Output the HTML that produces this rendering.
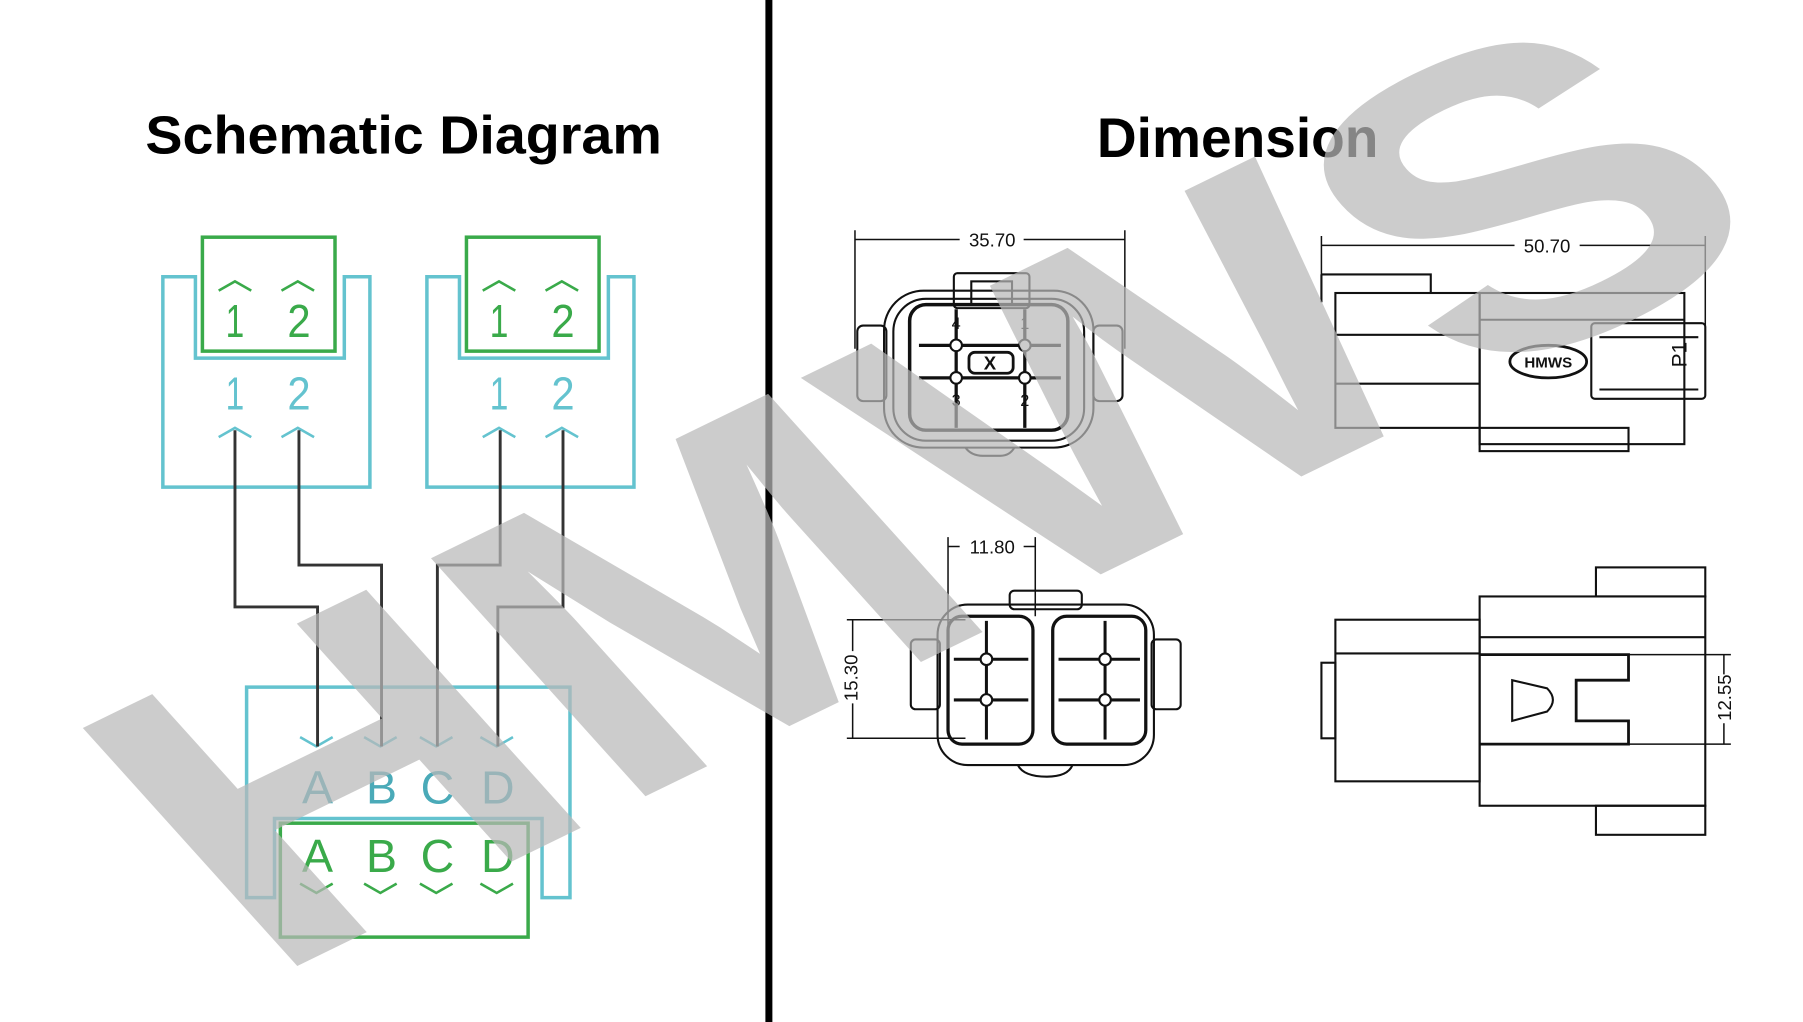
<!DOCTYPE html>
<html style="overflow:hidden"><head><meta charset="utf-8"><style>
html,body{margin:0;padding:0;background:#fff;overflow:hidden;width:1803px;height:1022px;}
svg{display:block;overflow:hidden;}
</style></head><body>
<svg width="1803" height="1022" viewBox="0 0 1550 879" preserveAspectRatio="none" xmlns="http://www.w3.org/2000/svg" font-family="Liberation Sans, sans-serif">
<rect width="1550" height="879" fill="#fff"/>
<rect x="658" y="0" width="6" height="879" fill="#000"/>
<text x="347" y="132" text-anchor="middle" font-size="46" font-weight="bold" textLength="444" lengthAdjust="spacingAndGlyphs" fill="#000">Schematic Diagram</text>
<text x="1064" y="135" text-anchor="middle" font-size="48" font-weight="bold" textLength="242" lengthAdjust="spacingAndGlyphs" fill="#000">Dimension</text>

<g fill="none" stroke-width="3">
  <path d="M140 238 H168 V308 H296 V238 H318 V419 H140 Z" stroke="#64c3cf"/>
  <rect x="174" y="204" width="114" height="98" stroke="#3aaa4a"/>
  <path d="M367 238 H395 V308 H523 V238 H545 V419 H367 Z" stroke="#64c3cf"/>
  <rect x="401" y="204" width="114" height="98" stroke="#3aaa4a"/>
  <path d="M212 772 V591 H490 V772 H466 V704 H236 V772 Z" stroke="#64c3cf"/>
  <rect x="241" y="708" width="213" height="98" stroke="#3aaa4a"/>
</g>
<g fill="none" stroke-width="2.2">
  <g stroke="#3aaa4a">
    <path d="M188 250 l14 -8 l14 8 M242 250 l14 -8 l14 8 M415 250 l14 -8 l14 8 M469 250 l14 -8 l14 8"/>
    <path d="M258 760 l14 8 l14 -8 M313 760 l14 8 l14 -8 M361 760 l14 8 l14 -8 M413 760 l14 8 l14 -8"/>
  </g>
  <g stroke="#64c3cf">
    <path d="M188 376 l14 -8 l14 8 M242 376 l14 -8 l14 8 M415 376 l14 -8 l14 8 M469 376 l14 -8 l14 8"/>
    <path d="M258 634 l14 8 l14 -8 M313 634 l14 8 l14 -8 M361 634 l14 8 l14 -8 M413 634 l14 8 l14 -8"/>
  </g>
</g>
<g fill="none" stroke="#333" stroke-width="2.5">
  <path d="M202 370 V522 H273 V642"/>
  <path d="M257 370 V486 H328 V642"/>
  <path d="M430 370 V486 H376 V642"/>
  <path d="M484 370 V522 H428 V642"/>
</g>
<g font-size="40" text-anchor="middle" fill="#3aaa4a">
  <text x="202" y="290" textLength="16" lengthAdjust="spacingAndGlyphs">1</text><text x="257" y="290" textLength="20" lengthAdjust="spacingAndGlyphs">2</text>
  <text x="429" y="290" textLength="16" lengthAdjust="spacingAndGlyphs">1</text><text x="484" y="290" textLength="20" lengthAdjust="spacingAndGlyphs">2</text>
  <text x="273" y="750">A</text><text x="328" y="750">B</text><text x="376" y="750">C</text><text x="428" y="750">D</text>
</g>
<g font-size="40" text-anchor="middle" fill="#64c3cf">
  <text x="202" y="352" textLength="16" lengthAdjust="spacingAndGlyphs">1</text><text x="257" y="352" textLength="20" lengthAdjust="spacingAndGlyphs">2</text>
  <text x="429" y="352" textLength="16" lengthAdjust="spacingAndGlyphs">1</text><text x="484" y="352" textLength="20" lengthAdjust="spacingAndGlyphs">2</text>
</g>
<g font-size="40" text-anchor="middle" fill="#4aaab8">
  <text x="273" y="691">A</text><text x="328" y="691">B</text><text x="376" y="691">C</text><text x="428" y="691">D</text>
</g>

<g fill="none" stroke="#111" stroke-width="1.8">
  <path d="M735 198 V300 M967 198 V300 M735 206 H825 M880 206 H967" stroke-width="1.3"/>
  <rect x="737" y="280" width="25" height="65" rx="5"/>
  <rect x="940" y="280" width="25" height="65" rx="5"/>
  <rect x="760" y="250" width="180" height="135" rx="34"/>
  <rect x="768" y="257" width="164" height="122" rx="28"/>
  <rect x="820" y="235" width="65" height="30" rx="3"/>
  <rect x="835" y="242" width="35" height="20"/>
  <rect x="782" y="262" width="136" height="108" rx="14" stroke-width="3"/>
  <path d="M790 297 H912 M790 325 H912 M822 266 V368 M881 266 V368" stroke-width="2.8"/>
  <rect x="833" y="303" width="38" height="18" rx="5" stroke-width="2.4"/>
  <circle cx="822" cy="297" r="5" fill="#fff"/><circle cx="881" cy="297" r="5" fill="#fff"/>
  <circle cx="822" cy="325" r="5" fill="#fff"/><circle cx="881" cy="325" r="5" fill="#fff"/>
  <path d="M830 385 Q835 392 845 392 H860 Q868 392 872 385"/>
  <path d="M1136 203 V260 M1466 203 V280 M1136 211 H1302 M1358 211 H1466" stroke-width="1.3"/>
  <path d="M1136 236 H1230 V252 M1136 236 V260"/>
  <rect x="1148" y="252" width="124" height="116"/>
  <path d="M1148 288 H1272 M1148 330 H1272"/>
  <rect x="1272" y="252" width="176" height="130"/>
  <path d="M1272 275 H1448"/>
  <rect x="1368" y="278" width="98" height="65" rx="3"/>
  <path d="M1375 290 H1460 M1375 335 H1460"/>
  <rect x="1272" y="368" width="128" height="20"/>
  <ellipse cx="1331" cy="311" rx="33" ry="14" stroke-width="2.4"/>
  <path d="M815 462 V540 M890 462 V530 M815 470 H825 M880 470 H890" stroke-width="1.3"/>
  <path d="M728 533 H830 M728 635 H830 M733 533 V560 M733 605 V635" stroke-width="1.3"/>
  <rect x="868" y="508" width="62" height="16" rx="4"/>
  <rect x="783" y="550" width="25" height="60" rx="4"/>
  <rect x="990" y="550" width="25" height="60" rx="4"/>
  <rect x="806" y="520" width="186" height="138" rx="26"/>
  <rect x="815" y="530" width="73" height="110" rx="12" stroke-width="2.8"/>
  <rect x="905" y="530" width="80" height="110" rx="12" stroke-width="2.8"/>
  <path d="M820 567 H884 M820 602 H884 M848 534 V636 M910 567 H980 M910 602 H980 M950 534 V636" stroke-width="2.6"/>
  <circle cx="848" cy="567" r="5" fill="#fff"/><circle cx="848" cy="602" r="5" fill="#fff"/>
  <circle cx="950" cy="567" r="5" fill="#fff"/><circle cx="950" cy="602" r="5" fill="#fff"/>
  <path d="M875 658 Q880 668 900 668 Q918 668 922 658"/>
  <rect x="1148" y="533" width="124" height="139"/>
  <path d="M1148 562 H1272"/>
  <rect x="1136" y="570" width="12" height="65"/>
  <rect x="1272" y="513" width="194" height="180"/>
  <path d="M1272 548 H1466"/>
  <rect x="1372" y="488" width="94" height="25"/>
  <rect x="1372" y="693" width="94" height="25"/>
  <path d="M1272 563 H1400 V585 H1355 V620 H1400 V640 H1272" stroke-width="2.4"/>
  <path d="M1300 585 L1300 620 L1330 612 Q1340 602 1330 592 Z"/>
  <path d="M1400 563 H1488 M1400 640 H1488 M1482 563 V580 M1482 622 V640" stroke-width="1.3"/>
</g>
<g font-size="16" fill="#111" text-anchor="middle">
  <text x="853" y="212">35.70</text>
  <text x="1330" y="217">50.70</text>
  <text x="853" y="476">11.80</text>
  <text x="851" y="318" font-weight="bold">X</text>
  <text x="822" y="283" font-size="14">4</text><text x="881" y="283" font-size="14">1</text>
  <text x="822" y="349" font-size="14">3</text><text x="881" y="349" font-size="14">2</text>
  <text x="1331" y="316" font-size="13" font-weight="bold">HMWS</text>
  <text transform="translate(737 583) rotate(-90)">15.30</text>
  <text transform="translate(1488 600) rotate(-90)">12.55</text>
  <text transform="translate(1450 305) rotate(-90)" font-size="18">P1</text>
</g>

<g transform="translate(790 420) rotate(-26) skewX(16)">
<text x="0" y="135" text-anchor="middle" font-size="385" font-weight="bold" fill="#b8b8b8" fill-opacity="0.72" textLength="1460" lengthAdjust="spacingAndGlyphs">HMWS</text>
</g>
</svg>
</body></html>
